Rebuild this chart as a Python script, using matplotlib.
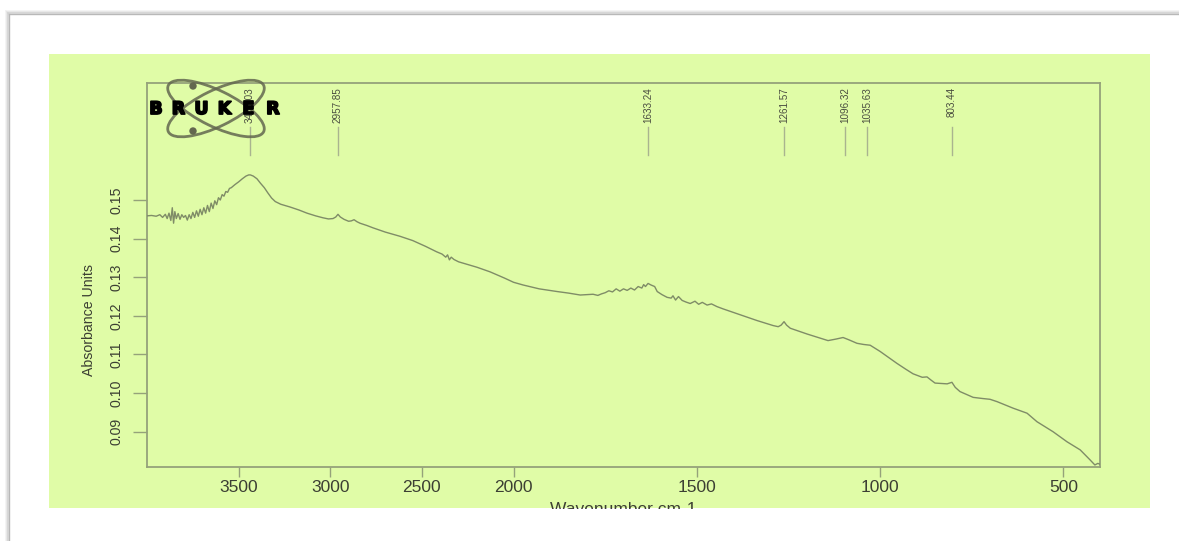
import numpy as np
import matplotlib
matplotlib.use("Agg")
import matplotlib.pyplot as plt
from matplotlib.patches import Rectangle, Ellipse, Circle
import matplotlib.patheffects as pe

# ---------------- data ----------------
wavenumber = [
    4000, 3975, 3950, 3930, 3915, 3900, 3890, 3880, 3870, 3862, 3855, 3848, 3840,
    3830, 3820, 3810, 3800, 3790, 3780, 3770, 3760, 3750, 3740, 3730, 3720, 3710,
    3700, 3690, 3680, 3670, 3660, 3650, 3640, 3630, 3620, 3610, 3600, 3590, 3580,
    3570, 3560, 3550, 3540, 3520, 3500, 3480, 3460, 3445, 3436, 3420, 3400, 3380,
    3360, 3340, 3320, 3300, 3270, 3220, 3170, 3127, 3080, 3040, 3010, 2985, 2970,
    2958, 2945, 2925, 2900, 2885, 2870, 2855, 2838, 2800, 2767, 2700, 2619, 2550,
    2480, 2420, 2390, 2370, 2360, 2350, 2340, 2325, 2300, 2200, 2128, 2050, 2000,
    1974, 1930, 1881, 1850, 1818, 1800, 1783, 1770, 1760, 1750, 1740, 1730, 1720,
    1710, 1700, 1690, 1680, 1670, 1660, 1650, 1645, 1640, 1633, 1625, 1615, 1608,
    1595, 1581, 1570, 1565, 1558, 1550, 1540, 1530, 1518, 1505, 1495, 1485, 1472,
    1460, 1445, 1428, 1382, 1336, 1292, 1278, 1270, 1262, 1255, 1245, 1199, 1142,
    1120, 1101, 1085, 1063, 1045, 1027, 1000, 973, 954, 930, 910, 885, 872, 860,
    850, 817, 804, 795, 782, 746, 720, 700, 681, 637, 599, 572, 528, 490, 454, 427,
    414, 406, 400]
absorbance = [
    0.1459, 0.1460, 0.1458, 0.1462, 0.1455, 0.1463, 0.1452, 0.1466, 0.1447, 0.1480,
    0.1440, 0.1470, 0.1452, 0.1465, 0.1450, 0.1462, 0.1455, 0.1460, 0.1448, 0.1462,
    0.1452, 0.1468, 0.1455, 0.1472, 0.1458, 0.1476, 0.1462, 0.1480, 0.1466, 0.1486,
    0.1470, 0.1492, 0.1478, 0.1498, 0.1488, 0.1506, 0.1500, 0.1514, 0.1510, 0.1522,
    0.1520, 0.1530, 0.1532, 0.1540, 0.1547, 0.1555, 0.1562, 0.1565, 0.1565, 0.1562,
    0.1555, 0.1543, 0.1532, 0.1518, 0.1505, 0.1496, 0.1489, 0.1482, 0.1474, 0.1466,
    0.1459, 0.1454, 0.1451, 0.1452, 0.1456, 0.1463, 0.1456, 0.1450, 0.1445, 0.1446,
    0.1449, 0.1444, 0.1440, 0.1434, 0.1428, 0.1417, 0.1406, 0.1395, 0.1380, 0.1366,
    0.1360, 0.1352, 0.1358, 0.1345, 0.1352, 0.1346, 0.1340, 0.1326, 0.1314, 0.1298,
    0.1287, 0.1280, 0.1270, 0.1263, 0.1259, 0.1254, 0.1255, 0.1256, 0.1253, 0.1257,
    0.1260, 0.1265, 0.1262, 0.1270, 0.1264, 0.1270, 0.1266, 0.1272, 0.1267, 0.1276,
    0.1272, 0.1281, 0.1276, 0.1284, 0.1280, 0.1276, 0.1263, 0.1255, 0.1248, 0.1246,
    0.1252, 0.1241, 0.1250, 0.1240, 0.1236, 0.1232, 0.1238, 0.1230, 0.1235, 0.1228,
    0.1231, 0.1224, 0.1218, 0.1203, 0.1188, 0.1175, 0.1172, 0.1176, 0.1185, 0.1176,
    0.1168, 0.1153, 0.1136, 0.1140, 0.1144, 0.1138, 0.1129, 0.1126, 0.1124, 0.1108,
    0.1090, 0.1077, 0.1062, 0.1050, 0.1041, 0.1042, 0.1033, 0.1026, 0.1024, 0.1028,
    0.1015, 0.1004, 0.0989, 0.0986, 0.0984, 0.0978, 0.0961, 0.0948, 0.0926, 0.0900,
    0.0874, 0.0853, 0.0827, 0.0814, 0.0818, 0.0816]

peak_positions = [3438.03, 2957.85, 1633.24, 1261.57, 1096.32, 1035.63, 803.44]
peak_labels = ["3438.03", "2957.85", "1633.24", "1261.57", "1096.32", "1035.63", "803.44"]

x_ticks = [3500, 3000, 2500, 2000, 1500, 1000, 500]
y_ticks = [0.09, 0.10, 0.11, 0.12, 0.13, 0.14, 0.15]
y_tick_labels = ["0.09", "0.10", "0.11", "0.12", "0.13", "0.14", "0.15"]

x_label = "Wavenumber cm-1"
y_label = "Absorbance Units"
logo_text = "BRUKER"

# ---------------- style ----------------
W, H = 1179, 541
GREEN = "#e0fca7"
LINE = "#7f8c67"
FRAME = "#95a27a"
TXT = "#3c3f33"

plt.rcParams["font.family"] = ["Liberation Sans", "DejaVu Sans"]

fig = plt.figure(figsize=(W / 100, H / 100), dpi=100)
fig.patch.set_facecolor("white")

# background overlay (pixel coordinates)
bg = fig.add_axes([0, 0, 1, 1], zorder=-5)
bg.set_xlim(0, W)
bg.set_ylim(H, 0)
bg.axis("off")
for i, c in enumerate(["#f2f2f2", "#e6e6e6", "#d4d4d4"]):
    bg.plot([6 + i, 6 + i], [H, 11 + i], color=c, lw=1.2)
    bg.plot([6 + i, W], [11 + i, 11 + i], color=c, lw=1.2)
bg.plot([9, 9], [H, 14], color="#b8b8b8", lw=1.0)
bg.plot([9, W], [14, 14], color="#b8b8b8", lw=1.0)
bg.add_patch(Rectangle((49, 54), 1101, 454, facecolor=GREEN, edgecolor="none"))

# main axes
L, R, T, B = 147, 1100, 83, 467
ax = fig.add_axes([L / W, 1 - B / H, (R - L) / W, (B - T) / H], zorder=1)
ax.set_facecolor("none")


def fwd(x):
    x = np.asarray(x, dtype=float)
    return np.where(x > 2000, 2000 + (x - 2000) / 2.0, x)


def inv(t):
    t = np.asarray(t, dtype=float)
    return np.where(t > 2000, 2000 + 2.0 * (t - 2000), t)


ax.set_xscale("function", functions=(fwd, inv))
ax.plot(wavenumber, absorbance, color=LINE, lw=1.0, zorder=3)
ax.set_xlim(4000, 400)
ax.set_ylim(0.08087, 0.18030)

ax.set_xticks(x_ticks)
ax.set_xticklabels([str(v) for v in x_ticks], fontsize=12.5, color=TXT)
ax.set_yticks(y_ticks)
ax.set_yticklabels(y_tick_labels, fontsize=10.2, color=TXT, rotation=90, va="center")
ax.xaxis.set_minor_locator(matplotlib.ticker.NullLocator())
ax.tick_params(axis="x", length=7, width=1.0, color=FRAME, pad=2)
ax.tick_params(axis="y", length=10, width=1.0, color=FRAME, pad=7)
for s in ax.spines.values():
    s.set_color(FRAME)
    s.set_linewidth(1.3)

# peak markers
for p, lab in zip(peak_positions, peak_labels):
    ax.plot([p, p], [0.8125, 0.8854], color="#a9b48f", lw=1.0,
            transform=ax.get_xaxis_transform(), zorder=2)
    ax.text(p, 0.9896, lab, rotation=90, ha="center", va="top",
            fontsize=7.1, color="#4a4d40",
            transform=ax.get_xaxis_transform(), zorder=2)

# axis labels (figure pixel placement)
fig.text(89 / W, 1 - 320 / H, y_label, rotation=90, ha="center", va="center",
         fontsize=10.2, color=TXT)
fig.text(623 / W, 1 - 510 / H, x_label, ha="center", va="center",
         fontsize=12.5, color=TXT, zorder=2)

# foreground overlay: logo and crop of green panel
fg = fig.add_axes([0, 0, 1, 1], zorder=10)
fg.set_xlim(0, W)
fg.set_ylim(H, 0)
fg.axis("off")
fg.patch.set_alpha(0)
fg.add_patch(Rectangle((12, 508.5), W, H, facecolor="white", edgecolor="none"))
logo_col = "#63674f"
fg.add_patch(Ellipse((216, 108.5), 106, 36, angle=26, facecolor="none",
                     edgecolor=logo_col, lw=2.0, alpha=0.85))
fg.add_patch(Ellipse((216, 108.5), 106, 36, angle=-26, facecolor="none",
                     edgecolor=logo_col, lw=2.0, alpha=0.85))
fg.add_patch(Circle((193, 86), 3.0, color=logo_col))
fg.add_patch(Circle((193, 131), 3.0, color=logo_col))
letter_x = [156, 178.5, 201.5, 224.5, 248.5, 273]
for ch, lx in zip(logo_text, letter_x):
    fg.text(lx, 109, ch, ha="center", va="center", fontsize=12.5,
            fontweight="bold", family="DejaVu Sans", color="black",
            path_effects=[pe.withStroke(linewidth=1.3, foreground="black")])

fig.savefig("out.png", dpi=100, facecolor="white")
